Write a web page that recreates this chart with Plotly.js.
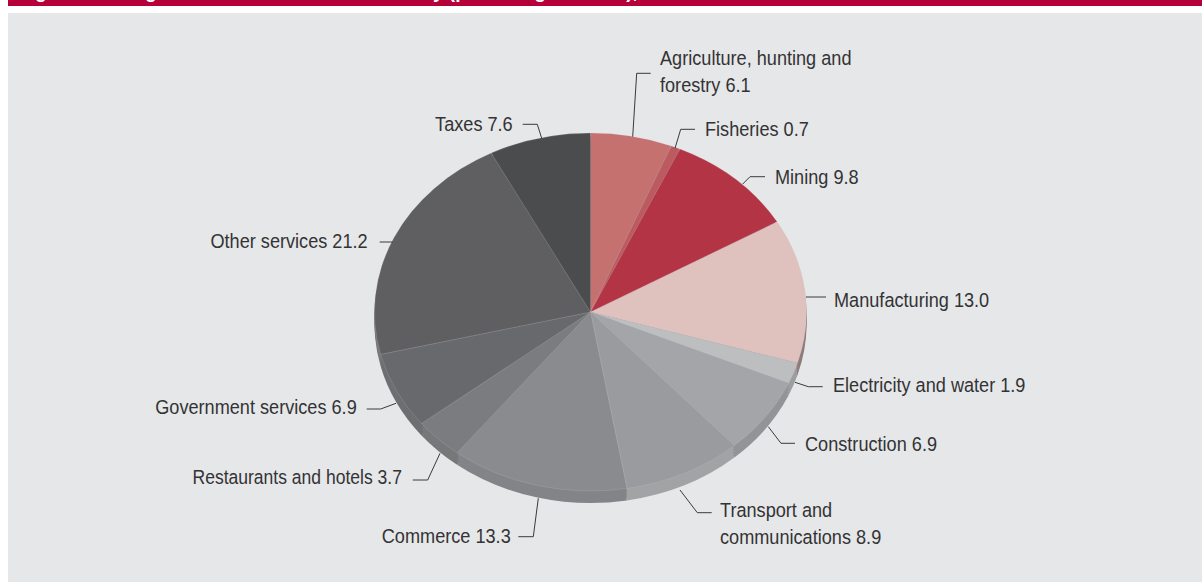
<!DOCTYPE html>
<html><head><meta charset="utf-8">
<script src="https://cdn.plot.ly/plotly-3.0.1.min.js"></script>
<style>html,body{margin:0;padding:0;background:#fff;overflow:hidden}</style>
</head><body><div id="chart" style="width:1202px;height:582px"></div>
<script>
const categories = ["Agriculture, hunting and forestry","Fisheries","Mining","Manufacturing","Electricity and water","Construction","Transport and communications","Commerce","Restaurants and hotels","Government services","Other services","Taxes"];
const shares = [6.1,0.7,9.8,13.0,1.9,6.9,8.9,13.3,3.7,6.9,21.2,7.6];
const faceColors = ["#c47170","#bb5b60","#b23445","#dfc1bd","#bcbec0","#a4a5a8","#9a9b9e","#8a8b8e","#7b7c7f","#68696c","#5f5f62","#4b4c4e"];
const rimColors = ["#a86060","#a05056","#8f3040","#8f7b7b","#9c9ea0","#939497","#a2a3a5","#838487","#77787a","#6e6f71","#77787a","#555658"];
const labelText = ["Agriculture, hunting and<br>forestry 6.1","Fisheries 0.7","Mining 9.8","Manufacturing 13.0","Electricity and water 1.9","Construction 6.9","Transport and<br>communications 8.9","Commerce 13.3","Restaurants and hotels 3.7","Government services 6.9","Other services 21.2","Taxes 7.6"];
const labelX = [659,704,774,833,832,804,719,512,403,358,369,514];
const labelY = [71,128,176,300,384,443,523,535,476,406,240,123];
const labelAnchor = ["left","left","left","left","left","left","left","right","right","right","right","right"];
const labelScale = [0.885,0.885,0.885,0.885,0.885,0.885,0.885,0.885,0.855,0.885,0.885,0.885];
const leaders = [
 [[632.7,136.7],[636.7,73.3],[650.7,73.3]],
 [[675,148.3],[680.7,129.3],[695,129.3]],
 [[742.7,184],[750,176.7],[765,176.7]],
 [[806,297],[826,297]],
 [[795,382.3],[808.3,386.7],[822.7,386.7]],
 [[768.3,426.7],[781,443.3],[795,443.3]],
 [[680,490],[697.3,512.7],[711.7,512.7]],
 [[538.3,498.3],[533.3,536.7],[518.3,536.7]],
 [[440,453.3],[427.7,480],[412.7,480]],
 [[396,403.3],[380.7,409],[366.7,409]],
 [[392.7,242],[379.7,242]],
 [[541.7,138.3],[537.3,124.3],[522.7,124.3]]
];
const W=1202,H=582,CX=590.5,CY=312,RX=216,RY=179,DEPTH=12;
const k=RY/RX, CY0=291;
const px=x=>x/W, py=y=>1-y/H;
function pie(offset,colors,lineColor,lineW){
  const dy=offset/k;
  return {type:"pie",values:shares,labels:categories,sort:false,direction:"clockwise",rotation:0,
    textinfo:"none",showlegend:false,hoverinfo:"label+value",
    marker:{colors:colors,line:{color:lineColor,width:lineW}},
    domain:{x:[px(CX-RX),px(CX+RX)],y:[py(CY0+dy+RX),py(CY0+dy-RX)]}};
}
const data=[pie(DEPTH,rimColors,"#b4b5b7",0),pie(DEPTH*0.75,rimColors,"#b4b5b7",0),pie(DEPTH/2,rimColors,"#b4b5b7",0),pie(DEPTH/4,rimColors,"#b4b5b7",0),pie(0,faceColors,"rgba(205,206,208,0.5)",0.4)];
const shapes=[
 {type:"rect",xref:"paper",yref:"paper",x0:px(8),x1:1,y0:0,y1:py(13),fillcolor:"#e6e7e8",line:{width:0},layer:"below"},
 {type:"rect",xref:"paper",yref:"paper",x0:px(8),x1:1,y0:py(6),y1:1,fillcolor:"#b5003a",line:{width:0},layer:"below"}
];
leaders.forEach(p=>{for(let i=0;i<p.length-1;i++)shapes.push({type:"line",xref:"paper",yref:"paper",x0:px(p[i][0]),y0:py(p[i][1]),x1:px(p[i+1][0]),y1:py(p[i+1][1]),line:{color:"#3a3a3c",width:1},layer:"above"});});
const FONT="'Liberation Sans',Arial,sans-serif";
const annotations=labelText.map((t,i)=>({xref:"paper",yref:"paper",x:px(labelX[i]),y:py(labelY[i]),text:t,showarrow:false,xanchor:labelAnchor[i],yanchor:"middle",align:"left",borderpad:0,font:{family:FONT,size:20.5,color:"#333335"}}));
[["Fig",17],["g",144],["y (percentage of GDP),",432]].forEach(([t,x])=>annotations.push({xref:"paper",yref:"paper",x:px(x),y:py(3),xanchor:"left",yanchor:"bottom",showarrow:false,borderpad:0,text:"<b>"+t+"</b>",font:{family:FONT,size:19,color:"#ffffff"}}));
Plotly.newPlot("chart",data,{width:W,height:H,margin:{l:0,r:0,t:0,b:0},paper_bgcolor:"#ffffff",showlegend:false,shapes:shapes,annotations:annotations},{displayModeBar:false,staticPlot:true}).then(gd=>{
  gd.querySelector(".pielayer").setAttribute("transform",`translate(0,${CY}) scale(1,${k}) translate(0,${-CY0})`);
  gd.querySelectorAll(".annotation").forEach((a,i)=>{
    if(i>=labelText.length) return;
    const t=a.querySelector("text"), b=t.getBBox();
    const p=labelAnchor[i]==="left"?b.x:b.x+b.width;
    t.setAttribute("transform",`translate(${p},0) scale(${labelScale[i]},1) translate(${-p},0)`);
  });
});
</script></body></html>
